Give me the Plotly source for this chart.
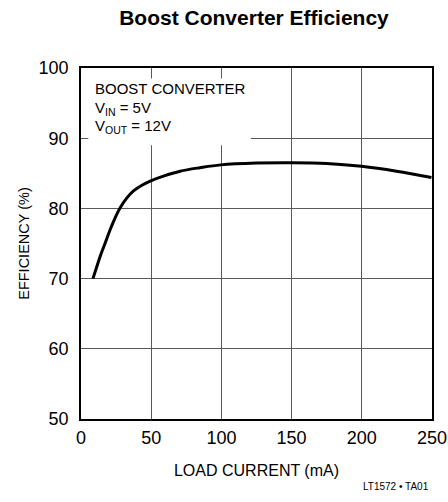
import plotly.graph_objects as go

load_current = [8.5, 11.4, 13.7, 17.3, 20.8, 24.4, 27.9, 32.7, 37.4, 43.4, 49.3, 58.7, 70.6, 84.8,
                99.5, 125, 149.8, 175, 199.8, 224.7, 249.6]
efficiency = [70.0, 71.8, 73.2, 75.1, 77.0, 78.7, 80.1, 81.5, 82.5, 83.3, 83.9, 84.6, 85.3, 85.8,
              86.2, 86.45, 86.5, 86.4, 86.0, 85.3, 84.4]

x_ticks = [0, 50, 100, 150, 200, 250]
y_ticks = [50, 60, 70, 80, 90, 100]

FONT = "Liberation Sans, Arial, sans-serif"

fig = go.Figure()
fig.add_trace(go.Scatter(x=load_current, y=efficiency, mode="lines",
                         line=dict(color="black", width=3, shape="spline", smoothing=1.0),
                         hoverinfo="skip", showlegend=False))

axis_common = dict(showgrid=True, gridcolor="#5a5a5a", gridwidth=1.3,
                   showline=True, linecolor="black", linewidth=1.5, mirror=True,
                   zeroline=False, ticks="", tickfont=dict(family=FONT, size=18, color="black"),
                   fixedrange=True, automargin=False)

fig.update_xaxes(range=[0, 250], tickvals=x_ticks, ticktext=[str(v) for v in x_ticks],
                 ticklabelstandoff=2,
                 title=dict(text="LOAD CURRENT (mA)", font=dict(family=FONT, size=16, color="black"), standoff=17),
                 **axis_common)
fig.update_yaxes(range=[50, 100], tickvals=y_ticks, ticktext=[str(v) for v in y_ticks],
                 ticklabelstandoff=7,
                 title=dict(text="EFFICIENCY (%)", font=dict(family=FONT, size=14.5, color="black"), standoff=6),
                 **axis_common)

fig.add_shape(type="rect", xref="x", yref="y", x0=5.2, x1=121, y0=89.0, y1=98.5,
              fillcolor="white", line=dict(width=0), layer="above")

box_lines = ["BOOST CONVERTER", "V<sub>IN</sub> = 5V", "V<sub>OUT</sub> = 12V"]
box_y = [97.1, 94.2, 91.6]
for txt, yy in zip(box_lines, box_y):
    fig.add_annotation(x=8.5, y=yy, xref="x", yref="y", text=txt, showarrow=False,
                       xanchor="left", yanchor="middle",
                       font=dict(family=FONT, size=15, color="black"))

PL, PR, PT, PB = 81, 16, 68, 83
pw, ph = 448 - PL - PR, 502 - PT - PB
fig.add_annotation(x=(431 - PL) / pw, y=-(487 - (502 - PB)) / ph, xref="paper", yref="paper",
                   text="LT1572 • TA01", showarrow=False, xanchor="right", yanchor="middle",
                   font=dict(family=FONT, size=10, color="black"))

fig.update_layout(
    width=448, height=502,
    margin=dict(l=PL, r=PR, t=PT, b=PB, autoexpand=False),
    paper_bgcolor="white", plot_bgcolor="white",
    title=dict(text="<b>Boost Converter Efficiency</b>", x=254 / 448, xanchor="center",
               y=1 - 18 / 502, yanchor="middle",
               font=dict(family=FONT, size=21, color="black")),
)

fig.write_html("out.html", config={"displayModeBar": False},
               post_script="document.body.style.margin='0';document.body.style.overflow='hidden';")
